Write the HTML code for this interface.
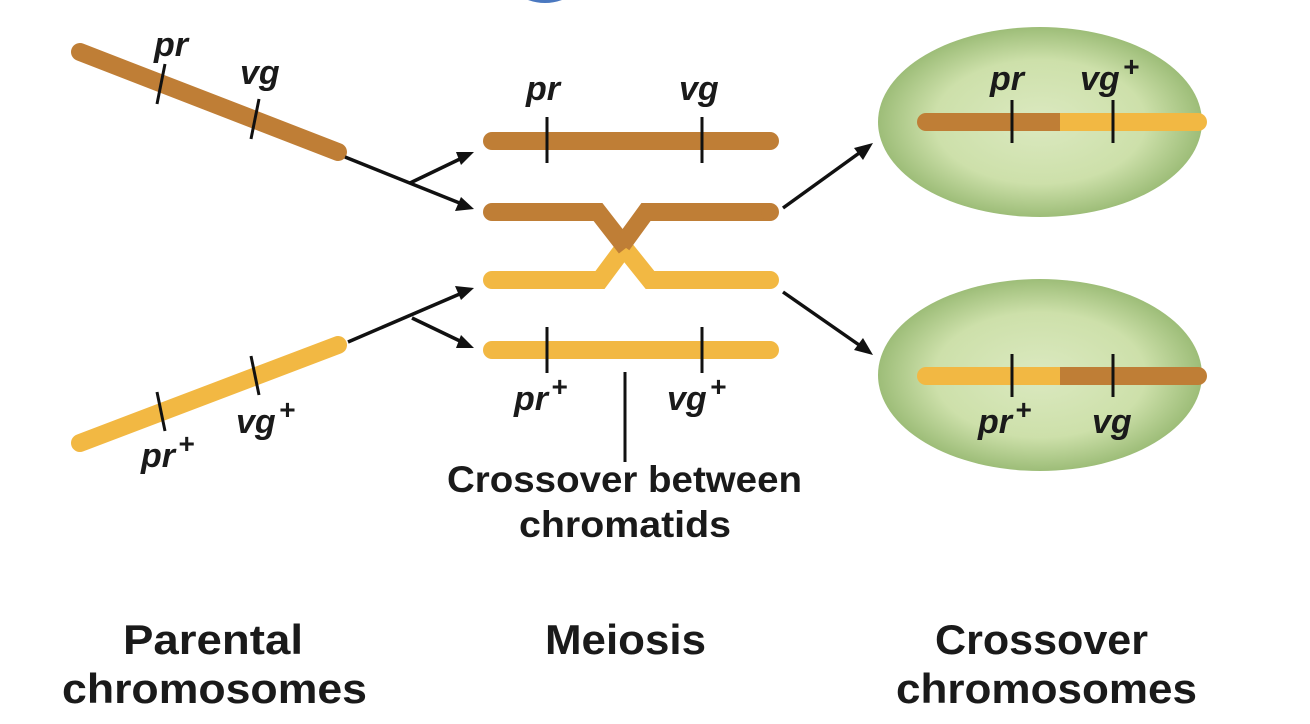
<!DOCTYPE html>
<html><head><meta charset="utf-8"><style>
html,body{margin:0;padding:0;background:#fff;}
svg{display:block;}
text{font-family:"Liberation Sans",sans-serif;font-weight:bold;fill:#1a1a1a;}
.it{font-style:italic;font-size:34px;}
</style></head><body>
<svg width="1310" height="724" viewBox="0 0 1310 724" xmlns="http://www.w3.org/2000/svg">
<defs>
<radialGradient id="g" cx="50%" cy="50%" r="50%">
<stop offset="0" stop-color="#dbe9c0"/>
<stop offset="0.65" stop-color="#cde0aa"/>
<stop offset="1" stop-color="#9dbd78"/>
</radialGradient>
</defs>
<path d="M528 0 Q545 6 562 0 Z" fill="#4a78c0"/>
<!-- parental -->
<line x1="80" y1="52" x2="338" y2="152" stroke="#bf7e36" stroke-width="18" stroke-linecap="round"/>
<line x1="80" y1="443" x2="338" y2="345" stroke="#f2b843" stroke-width="18" stroke-linecap="round"/>
<g stroke="#111" stroke-width="3">
<line x1="165" y1="64" x2="157" y2="104"/>
<line x1="259" y1="99" x2="251" y2="139"/>
<line x1="157" y1="392" x2="165" y2="431"/>
<line x1="251" y1="356" x2="259" y2="395"/>
</g>
<text class="it" x="154" y="56">pr</text>
<text class="it" x="240" y="84">vg</text>
<text class="it" x="141" y="467">pr<tspan font-size="28" dy="-14" dx="3">+</tspan></text>
<text class="it" x="236" y="433">vg<tspan font-size="28" dy="-14" dx="3">+</tspan></text>
<!-- arrows -->
<g stroke="#111" stroke-width="3.5" fill="none">
<line x1="345" y1="157" x2="462" y2="204"/>
<line x1="410" y1="183" x2="462" y2="158"/>
<line x1="348" y1="342" x2="462" y2="293"/>
<line x1="412" y1="318" x2="462" y2="342"/>
<line x1="783" y1="208" x2="862" y2="151"/>
<line x1="783" y1="292" x2="862" y2="347"/>
</g>
<g fill="#111">
<polygon points="474,209 455,211 461,197"/>
<polygon points="474,152 461,165 456,152"/>
<polygon points="474,288 455,286 461,300"/>
<polygon points="474,348 461,335 456,348"/>
<polygon points="873,143 863,160 854,148"/>
<polygon points="873,355 854,350 863,338"/>
</g>
<!-- meiosis -->
<g stroke-width="18" fill="none">
<line x1="492" y1="141" x2="770" y2="141" stroke="#bf7e36" stroke-linecap="round"/>
<line x1="492" y1="350" x2="770" y2="350" stroke="#f2b843" stroke-linecap="round"/>
<path d="M492 280 L600 280 L626 245" stroke="#f2b843" stroke-linejoin="miter"/>
<path d="M770 280 L650 280 L622 245" stroke="#f2b843" stroke-linejoin="miter"/>
<path d="M492 212 L598 212 L626 248" stroke="#bf7e36" stroke-linejoin="miter"/>
<path d="M770 212 L646 212 L622 245" stroke="#bf7e36" stroke-linejoin="miter"/>
<circle cx="492" cy="212" r="9" fill="#bf7e36" stroke="none"/>
<circle cx="770" cy="212" r="9" fill="#bf7e36" stroke="none"/>
<circle cx="492" cy="280" r="9" fill="#f2b843" stroke="none"/>
<circle cx="770" cy="280" r="9" fill="#f2b843" stroke="none"/>
</g>
<g stroke="#111" stroke-width="3">
<line x1="547" y1="117" x2="547" y2="163"/>
<line x1="702" y1="117" x2="702" y2="163"/>
<line x1="547" y1="327" x2="547" y2="373"/>
<line x1="702" y1="327" x2="702" y2="373"/>
<line x1="625" y1="372" x2="625" y2="462"/>
</g>
<text class="it" x="526" y="100">pr</text>
<text class="it" x="679" y="100">vg</text>
<text class="it" x="514" y="410">pr<tspan font-size="28" dy="-14" dx="3">+</tspan></text>
<text class="it" x="667" y="410">vg<tspan font-size="28" dy="-14" dx="3">+</tspan></text>
<text x="447" y="492" font-size="37" textLength="355" lengthAdjust="spacingAndGlyphs">Crossover between</text>
<text x="519" y="537" font-size="37" textLength="212" lengthAdjust="spacingAndGlyphs">chromatids</text>
<!-- ellipses -->
<ellipse cx="1040" cy="122" rx="162" ry="95" fill="url(#g)"/>
<ellipse cx="1040" cy="375" rx="162" ry="96" fill="url(#g)"/>
<g stroke-width="18">
<line x1="926" y1="122" x2="1060" y2="122" stroke="#bf7e36" stroke-linecap="round"/>
<line x1="1189" y1="122" x2="1198" y2="122" stroke="#f2b843" stroke-linecap="round"/>
<line x1="1060" y1="122" x2="1195" y2="122" stroke="#f2b843"/>
<line x1="926" y1="376" x2="1060" y2="376" stroke="#f2b843" stroke-linecap="round"/>
<line x1="1189" y1="376" x2="1198" y2="376" stroke="#bf7e36" stroke-linecap="round"/>
<line x1="1060" y1="376" x2="1195" y2="376" stroke="#bf7e36"/>
</g>
<g stroke="#111" stroke-width="3">
<line x1="1012" y1="100" x2="1012" y2="143"/>
<line x1="1113" y1="100" x2="1113" y2="143"/>
<line x1="1012" y1="354" x2="1012" y2="397"/>
<line x1="1113" y1="354" x2="1113" y2="397"/>
</g>
<text class="it" x="990" y="90">pr</text>
<text class="it" x="1080" y="90">vg<tspan font-size="28" dy="-14" dx="3">+</tspan></text>
<text class="it" x="978" y="433">pr<tspan font-size="28" dy="-14" dx="3">+</tspan></text>
<text class="it" x="1092" y="433">vg</text>
<!-- titles -->
<g font-size="42">
<text x="123" y="654" textLength="180" lengthAdjust="spacingAndGlyphs">Parental</text>
<text x="62" y="703" textLength="305" lengthAdjust="spacingAndGlyphs">chromosomes</text>
<text x="545" y="654" textLength="161" lengthAdjust="spacingAndGlyphs">Meiosis</text>
<text x="935" y="654" textLength="213" lengthAdjust="spacingAndGlyphs">Crossover</text>
<text x="896" y="703" textLength="301" lengthAdjust="spacingAndGlyphs">chromosomes</text>
</g>
</svg>
</body></html>
